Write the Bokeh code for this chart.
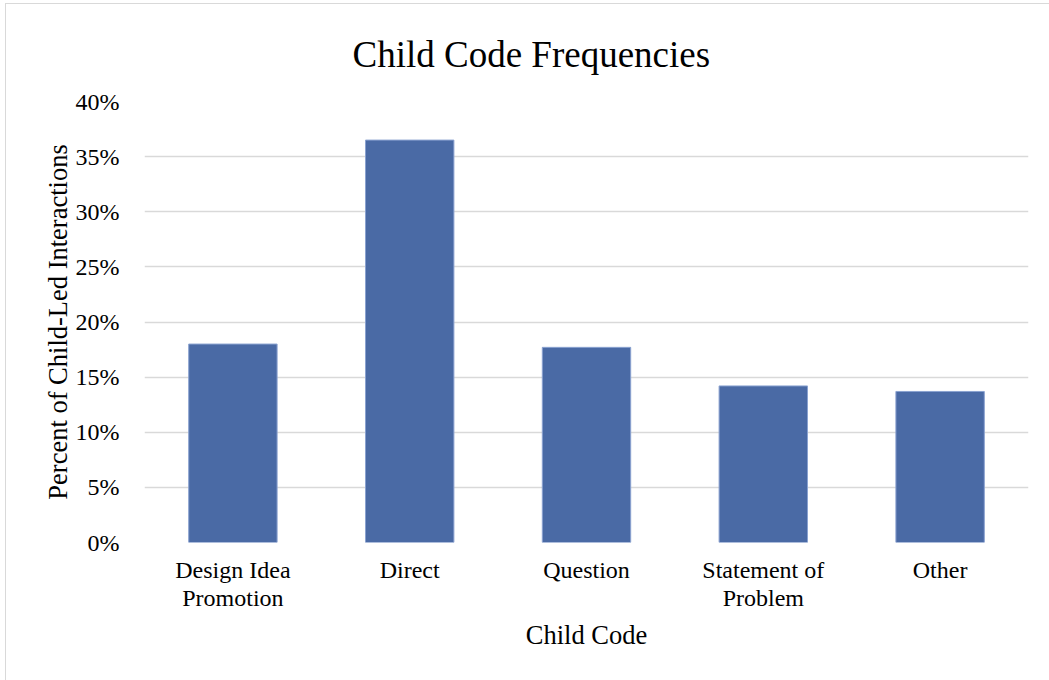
from bokeh.plotting import figure
from bokeh.models import FixedTicker, NumeralTickFormatter, InlineStyleSheet
from bokeh.embed import file_html
from bokeh.resources import INLINE

categories = ["Design Idea\nPromotion", "Direct", "Question", "Statement of\nProblem", "Other"]
percents = [0.180, 0.365, 0.177, 0.142, 0.137]
y_ticks = [0, 0.05, 0.10, 0.15, 0.20, 0.25, 0.30, 0.35, 0.40]

FONT = "Liberation Serif"

p = figure(x_range=categories, y_range=(0, 0.40), width=1045, height=678,
           output_backend="svg", toolbar_location=None,
           min_border_left=138, min_border_right=23, min_border_top=97, min_border_bottom=140,
           title="Child Code Frequencies")
p.margin = (4, 0, 0, 6)
p.stylesheets = [InlineStyleSheet(css=":host { outline: 1px solid #d9d9d9; }")]

p.vbar(x=categories, top=percents, width=0.5, fill_color="#4a6aa5",
       line_color="#8aa2d0", line_width=1)

p.title.text_font = FONT
p.title.text_font_size = "37px"
p.title.text_font_style = "normal"
p.title.text_color = "#000000"
p.title.align = "left"
p.title.vertical_align = "top"
p.title.offset = 208
p.title.standoff = 50

p.outline_line_color = None
p.xgrid.grid_line_color = None
p.ygrid.grid_line_color = "#d9d9d9"
p.ygrid.grid_line_width = 1.5

p.yaxis.ticker = FixedTicker(ticks=y_ticks)
p.yaxis.formatter = NumeralTickFormatter(format="0%")

for ax in (p.xaxis[0], p.yaxis[0]):
    ax.axis_line_color = None
    ax.major_tick_line_color = None
    ax.minor_tick_line_color = None
    ax.major_label_text_font = FONT
    ax.major_label_text_font_size = "24px"
    ax.major_label_text_color = "#000000"
    ax.axis_label_text_font = FONT
    ax.axis_label_text_font_size = "26.5px"
    ax.axis_label_text_font_style = "normal"
    ax.axis_label_text_color = "#000000"

p.xaxis.major_label_text_line_height = 1.08
p.xaxis.axis_label = "Child Code"
p.yaxis.axis_label = "Percent of Child-Led Interactions"
p.yaxis.major_label_standoff = 19
p.yaxis.axis_label_standoff = 0
p.xaxis.major_label_standoff = 8
p.xaxis.axis_label_standoff = 6

open("out.html", "w").write(file_html(p, INLINE))
